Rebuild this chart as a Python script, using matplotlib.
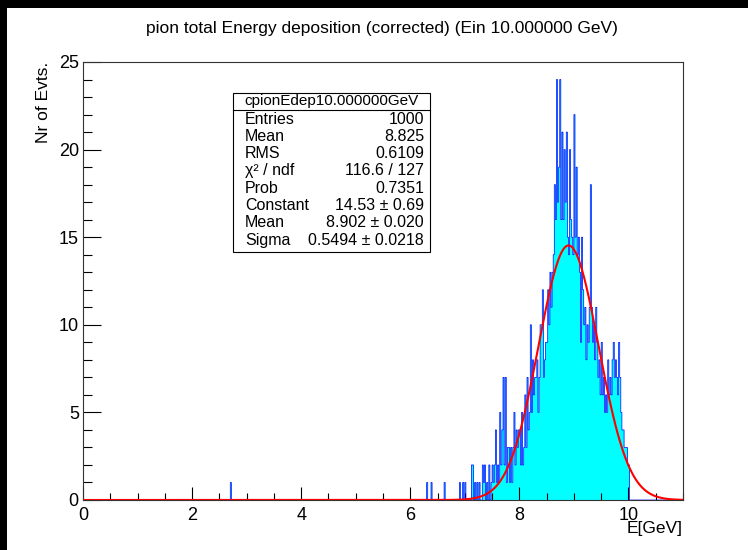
import numpy as np
import matplotlib
matplotlib.use("Agg")
import matplotlib.pyplot as plt
from matplotlib.patches import Rectangle
from matplotlib.ticker import MultipleLocator

plt.rcParams['font.family'] = ['Liberation Sans', 'DejaVu Sans']

# ---------------- data ----------------
bin_width = 0.02
x_range = [0.0, 11.0]
y_range = [0.0, 25.0]

outlier_bins = [2.70, 6.30, 6.38, 6.62, 6.90, 6.96]
outlier_counts = [1, 1, 1, 1, 1, 1]

core_start = 7.00
core_counts = [
    1, 0, 0, 0, 0,        # 7.00
    0, 2, 2, 0, 1,        # 7.10
    0, 1, 0, 1, 0,        # 7.20
    0, 2, 1, 2, 0,        # 7.30
    1, 0, 2, 0, 1,        # 7.40
    2, 1, 2, 4, 1,        # 7.50
    2, 1, 5, 2, 4,        # 7.60
    7, 2, 7, 1, 3,        # 7.70
    3, 1, 3, 1, 3,        # 7.80
    5, 2, 4, 3, 4,        # 7.90
    4, 2, 5, 2, 3,        # 8.00
    6, 3, 7, 4, 5,        # 8.10
    10, 5, 8, 6, 7,       # 8.20
    7, 8, 5, 7, 10,       # 8.30
    10, 12, 7, 8, 9,      # 8.40
    9, 12, 10, 13, 11,    # 8.50
    13, 14, 18, 16, 24,   # 8.60
    17, 19, 24, 16, 21,   # 8.70
    16, 20, 17, 21, 15,   # 8.80
    14, 20, 16, 15, 14,   # 8.90
    22, 15, 19, 14, 15,   # 9.00
    13, 9, 15, 12, 10,    # 9.10
    11, 8, 10, 9, 11,     # 9.20
    18, 11, 9, 10, 8,     # 9.30
    11, 9, 7, 8, 6,       # 9.40
    9, 6, 7, 5, 6,        # 9.50
    5, 8, 6, 7, 6,        # 9.60
    8, 9, 7, 8, 7,        # 9.70
    6, 9, 7, 5, 4,        # 9.80
    4, 3, 3, 3, 2,        # 9.90
    2,                    # 10.00
]

fit_constant = 14.53
fit_mean = 8.902
fit_sigma = 0.5494

title = "pion total Energy deposition (corrected) (Ein 10.000000 GeV)"
x_label = "E[GeV]"
y_label = "Nr of Evts."
x_ticks = [0, 2, 4, 6, 8, 10]
y_ticks = [0, 5, 10, 15, 20, 25]

stats_name = "cpionEdep10.000000GeV"
stats_labels = ["Entries", "Mean", "RMS", "χ² / ndf", "Prob", "Constant", "Mean", "Sigma"]
stats_values = ["1000", "8.825", "0.6109", "116.6 / 127", "0.7351",
                "14.53 ± 0.69", "8.902 ± 0.020", "0.5494 ± 0.0218"]

# ---------------- build histogram ----------------
n_bins = int(round((x_range[1] - x_range[0]) / bin_width))
edges = np.linspace(x_range[0], x_range[1], n_bins + 1)
counts = np.zeros(n_bins)
i0 = int(round((core_start - x_range[0]) / bin_width))
counts[i0:i0 + len(core_counts)] = core_counts
for b, c in zip(outlier_bins, outlier_counts):
    counts[int(round((b - x_range[0]) / bin_width))] += c

W, H = 748, 550
fig = plt.figure(figsize=(W / 100, H / 100), dpi=100)
fig.patch.set_facecolor('white')


def fx(x):
    return x / W


def fy(y):
    return 1 - y / H


ax_l, ax_r, ax_t, ax_b = 83, 683, 62, 500
ax = fig.add_axes([fx(ax_l), fy(ax_b), (ax_r - ax_l) / W, (ax_b - ax_t) / H])

ax.stairs(counts, edges, fill=True, facecolor='#00FFFF', edgecolor='none', zorder=1)
ax.stairs(counts, edges, color='#0000FF', lw=0.5, zorder=2)

xs = np.linspace(x_range[0], x_range[1], 1200)
ax.plot(xs, fit_constant * np.exp(-0.5 * ((xs - fit_mean) / fit_sigma) ** 2),
        color='#FF0000', lw=1.5, zorder=3)

ax.set_xlim(*x_range)
ax.set_ylim(*y_range)
ax.set_xticks(x_ticks)
ax.set_yticks(y_ticks)
ax.xaxis.set_minor_locator(MultipleLocator(0.5))
ax.yaxis.set_minor_locator(MultipleLocator(1))
ax.tick_params(axis='both', which='both', direction='in', top=False, right=False,
               labelsize=13, width=0.8, color='black')
ax.tick_params(axis='x', which='major', length=9.5, pad=5)
ax.tick_params(axis='x', which='minor', length=5)
ax.tick_params(axis='y', which='major', length=13, pad=3)
ax.tick_params(axis='y', which='minor', length=6.5)
for s in ax.spines.values():
    s.set_linewidth(0.8)
    s.set_color('#333333')

fig.text(fx(382), fy(28), title, ha='center', va='center', fontsize=12.5)
fig.text(fx(683), fy(529), x_label, ha='right', va='center', fontsize=12.5)
fig.text(fx(44), fy(62), y_label, ha='center', va='top', rotation=90, fontsize=12.5)

# stats box
bx0, by0, bx1, by1 = 233, 93, 430, 252
fig.patches.append(Rectangle((fx(bx0), fy(by1)), (bx1 - bx0) / W, (by1 - by0) / H,
                             transform=fig.transFigure, facecolor='white',
                             edgecolor='black', lw=0.8, zorder=5))
fig.lines.append(plt.Line2D([fx(bx0), fx(bx1)], [fy(110), fy(110)],
                            transform=fig.transFigure, color='black', lw=0.8, zorder=6))
fig.text(fx((bx0 + bx1) / 2), fy(101.5), stats_name, ha='center', va='center',
         fontsize=11, zorder=7)
for i, (lab, val) in enumerate(zip(stats_labels, stats_values)):
    y = 119 + i * 17.3
    fig.text(fx(245), fy(y), lab, ha='left', va='center', fontsize=11.5, zorder=7)
    fig.text(fx(424), fy(y), val, ha='right', va='center', fontsize=11.5, zorder=7)

# black screenshot border
fig.patches.append(Rectangle((0, fy(8)), 1, 8 / H, transform=fig.transFigure,
                             facecolor='black', edgecolor='none', zorder=10))
fig.patches.append(Rectangle((0, 0), 7 / W, 1, transform=fig.transFigure,
                             facecolor='black', edgecolor='none', zorder=10))

fig.savefig("out.png", dpi=100, facecolor='white')
